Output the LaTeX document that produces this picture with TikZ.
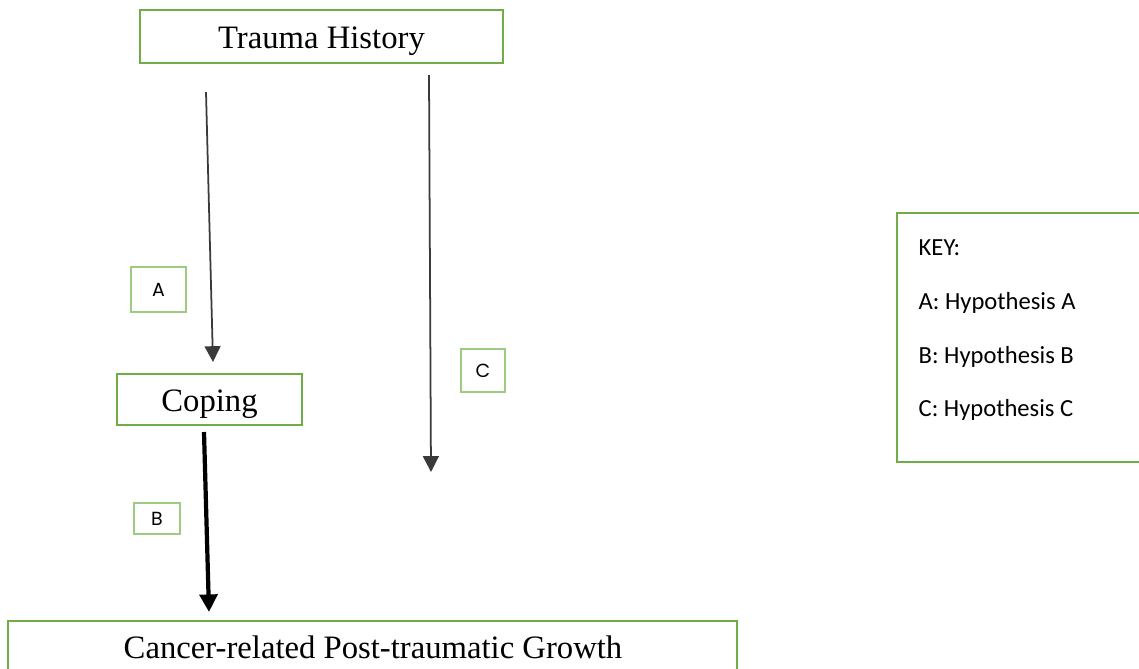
\documentclass[tikz,border=0pt]{standalone}
\usepackage{fontspec}
\setmainfont{Liberation Serif}
\newfontfamily\keyfont{Carlito}
\newfontfamily\tagfont{Poppins}
\usetikzlibrary{arrows.meta, positioning}
\definecolor{boxgreen}{HTML}{70AD47}
\definecolor{taggreen}{HTML}{9DCB80}
\definecolor{linegray}{HTML}{3A3A3A}
\newcommand{\lowtext}[1]{\raisebox{-1.4pt}[\height][\depth]{#1}}

\tikzset{
    stagebox/.style={draw=boxgreen, line width=0.7pt, inner sep=0pt, font=\fontsize{9.3}{11}\selectfont},
    tagbox/.style={draw=taggreen, line width=0.4pt, inner sep=0pt, font=\tagfont\fontsize{5.4}{6}\selectfont},
    thin path/.style={draw=linegray, line width=0.5pt, -{Triangle[length=4.5pt, width=4.5pt]}},
    thick path/.style={draw=black, line width=1.2pt, -{Triangle[length=5pt, width=5pt]}},
}

\begin{document}
\begin{tikzpicture}
                \useasboundingbox (0,0) rectangle (11.39,-6.69);
                \clip (0,0) rectangle (11.39,-6.69);
                % boxes
                \node [stagebox, minimum width=3.63cm, minimum height=0.53cm] (trauma) at (3.215,-0.365) {\lowtext{Trauma History}};
                \node [stagebox, minimum width=1.85cm, minimum height=0.51cm] (coping) at (2.095,-3.995) {\lowtext{Coping}};
                \node [stagebox, minimum width=7.29cm, minimum height=1.0cm, anchor=north] (growth) at (3.725,-6.20) {};
                \node [font=\fontsize{9.3}{11}\selectfont] (growthtext) at (3.73,-6.47) {Cancer-related Post-traumatic Growth};
                % hypothesis tags
                \node [tagbox, minimum width=0.55cm, minimum height=0.45cm] (tagA) at (1.585,-2.895) {A};
                \node [tagbox, minimum width=0.46cm, minimum height=0.31cm] (tagB) at (1.57,-5.185) {B};
                \node [tagbox, minimum width=0.44cm, minimum height=0.43cm] (tagC) at (4.83,-3.705) {C};
                % key
                \node [draw=boxgreen, line width=0.7pt, minimum width=2.6cm, minimum height=2.49cm, anchor=north west] (key) at (8.96,-2.12) {};
                \node [font=\keyfont\fontsize{7}{15.3}\selectfont, align=left, anchor=north west, inner sep=0pt] (keytext) at (9.18,-2.39)
                    {KEY:\\A: Hypothesis A\\B: Hypothesis B\\C: Hypothesis C};
                % arrows
                \coordinate (a start) at (2.06,-0.92);
                \coordinate (a end) at (2.13,-3.62);
                \coordinate (b start) at (2.04,-4.32);
                \coordinate (b end) at (2.09,-6.12);
                \coordinate (c start) at (4.29,-0.75);
                \coordinate (c end) at (4.31,-4.72);
                \draw [thin path] (a start) -- (a end);
                \draw [thick path] (b start) -- (b end);
                \draw [thin path] (c start) -- (c end);
            \end{tikzpicture}
\end{document}
